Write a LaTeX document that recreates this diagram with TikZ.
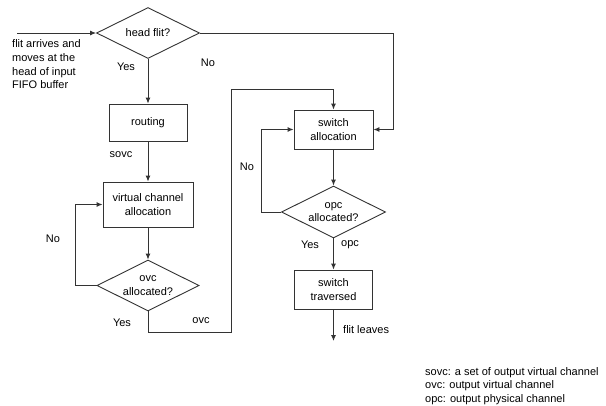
\documentclass[tikz,border=0pt]{standalone}
\usepackage{fontspec}
\setmainfont{Liberation Sans}
\usetikzlibrary{shapes.geometric,arrows.meta,calc}
\begin{document}
\begin{tikzpicture}[x=1pt,y=-1pt,
  font=\fontsize{11}{13.7}\selectfont,
  line/.style={draw=black!80,line width=0.9pt},
  arr/.style={line,-{Latex[length=6pt,width=5pt]}},
  procbox/.style={draw=black!80,line width=0.9pt,rectangle,align=center,inner sep=0pt},
  decision/.style={draw=black!80,line width=0.9pt,diamond,aspect=2,inner sep=0pt,align=center},
  lbl/.style={inner sep=0pt}]
\useasboundingbox (0,0) rectangle (606,405);

% decision and process nodes
\node[decision,minimum width=103pt,minimum height=51pt] (hf) at (148,33) {head flit?};
\node[procbox,minimum width=78pt,minimum height=37pt] (rt) at (148,122.5) {routing};
\node[procbox,minimum width=90pt,minimum height=45pt] (vca) at (148,204.5) {virtual channel\\allocation};
\node[decision,minimum width=102pt,minimum height=51pt] (ovc) at (148,285.5) {ovc\\allocated?};
\node[procbox,minimum width=79pt,minimum height=39pt] (sa) at (333.5,129.5) {switch\\allocation};
\node[decision,minimum width=104pt,minimum height=52pt] (opc) at (333.5,212) {opc\\allocated?};
\node[procbox,minimum width=78pt,minimum height=39pt] (st) at (333.5,289.5) {switch\\traversed};

% free ends
\coordinate (in) at (17,33);
\coordinate (out) at (333.5,341);

% connectors
\draw[arr] (in) -- (hf.west);
\draw[arr] (hf.east) -| ($(sa.east)+(20,0)$) -- (sa.east);
\draw[arr] (hf.south) -- (rt.north);
\draw[arr] (rt.south) -- (vca.north);
\draw[arr] (vca.south) -- (ovc.north);
\draw[arr] (ovc.west) -- (75,285.5) |- (vca.west);
\draw[arr] (ovc.south) |- (231,332) -- (231,89) -| (sa.north);
\draw[arr] (sa.south) -- (opc.north);
\draw[arr] (opc.west) -- (261,212) |- (sa.west);
\draw[arr] (opc.south) -- (st.north);
\draw[arr] (st.south) -- (out);

% labels
\node[lbl,anchor=west,align=left] (intext) at (12,64.5) {flit arrives and\\moves at the\\head of input\\FIFO buffer};
\node[lbl] (l1) at (126,67) {Yes};
\node[lbl] (l2) at (208,63) {No};
\node[lbl] (l3) at (121,155) {sovc};
\node[lbl] (l4) at (53,239) {No};
\node[lbl] (l5) at (122,323) {Yes};
\node[lbl] (l6) at (201,321) {ovc};
\node[lbl] (l7) at (247,167) {No};
\node[lbl] (l8) at (310,245) {Yes};
\node[lbl] (l9) at (350,245) {opc};
\node[lbl,anchor=west] (l10) at (343,330) {flit leaves};
\node[lbl,anchor=west,align=left] (legend) at (425,386) {sovc: a set of output virtual channel\\ovc: output virtual channel\\opc: output physical channel};
\end{tikzpicture}
\end{document}
